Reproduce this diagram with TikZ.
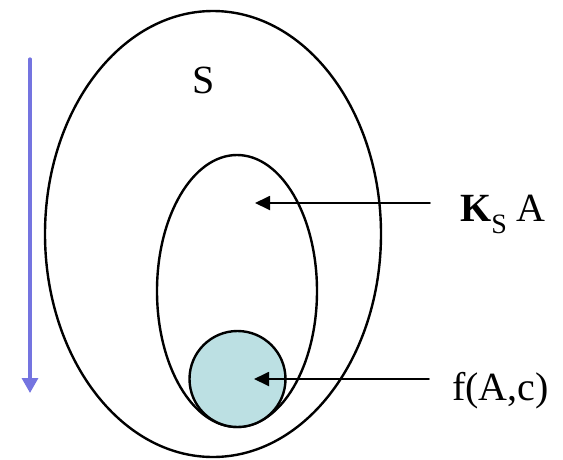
\documentclass[tikz,border=0pt]{standalone}
\usepackage{fontspec}
\setmainfont{Liberation Serif}
\usetikzlibrary{arrows.meta}
\definecolor{flowblue}{HTML}{7474E0}
\definecolor{cellfill}{HTML}{BCE0E3}
\newcommand{\subS}{\raisebox{-12pt}{\fontsize{28}{30}\selectfont S}}
\begin{document}
\begin{tikzpicture}[x=1pt, y=-1pt, line cap=round, line join=round]
  \tikzset{set/.style={draw=black, line width=2.4pt}, pointer/.style={draw=black, line width=1.8pt, -{Triangle[length=15pt, width=14pt]}}, flow/.style={draw=flowblue, line width=3.2pt, -{Triangle[length=15pt, width=16pt]}}, tag/.style={inner sep=0pt, font=\fontsize{40}{44}\selectfont}}
  \useasboundingbox (0,0) rectangle (563,459);

  % nested sets: S, then K_S A, then the small disc f(A,c)
  \draw[set] (213,234) ellipse (168 and 223);
  \draw[set] (237,291) ellipse (80 and 136);
  \draw[set, fill=cellfill] (237.5,379) circle (48);

  \node[tag] (sname) at (204,80) {S};
  \node[tag, anchor=base west] (ksname) at (460,221) {\textbf{K}\subS{} A};
  \node[tag, anchor=base west] (fname) at (452,400) {f(A,c)};

  % pointers from the right-hand names into the sets
  \coordinate (ksfrom) at (430,203);
  \coordinate (ksto) at (255,203);
  \coordinate (ffrom) at (429,379);
  \coordinate (fto) at (254,379);
  \draw[pointer] (ksfrom) -- (ksto);
  \draw[pointer] (ffrom) -- (fto);

  % downward arrow on the left
  \coordinate (flowtop) at (30,59);
  \coordinate (flowbot) at (30,393);
  \draw[flow] (flowtop) -- (flowbot);
\end{tikzpicture}
\end{document}
